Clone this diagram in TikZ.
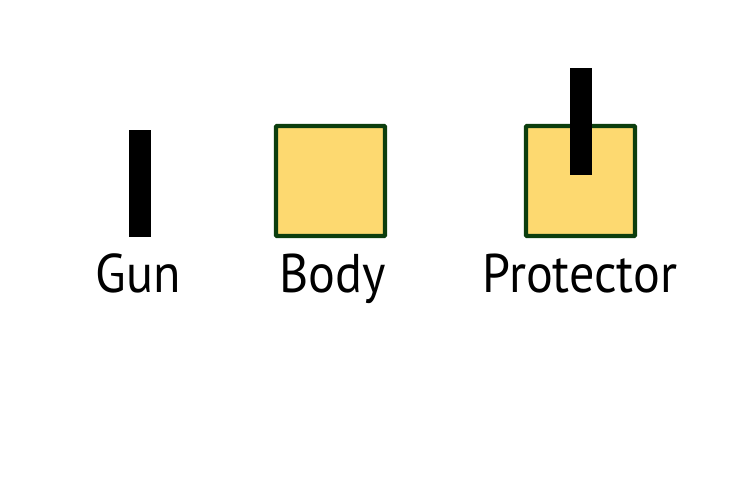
\documentclass[tikz,border=0pt]{standalone}
\usepackage{fontspec}
\setmainfont{PT Sans}[FakeStretch=0.92]
\definecolor{bodyfill}{RGB}{253,217,112}
\definecolor{bodyline}{RGB}{12,62,14}
\begin{document}
\begin{tikzpicture}[
  gunbar/.style={rectangle, fill=black, inner sep=0pt, minimum width=0.44cm, minimum height=2.14cm},
  bodybox/.style={rectangle, draw=bodyline, fill=bodyfill, line width=2.4pt, rounded corners=0.5pt, inner sep=0pt, minimum width=2.18cm, minimum height=2.2cm},
  lbl/.style={anchor=base, font=\fontsize{31}{34}\selectfont}
]
\useasboundingbox (0,0) rectangle (15,10);

\node[gunbar] (gun) at (2.80,6.33) {};
\node[bodybox] (body) at (6.61,6.38) {};
\node[bodybox] (prot) at (11.61,6.38) {};
\node[gunbar] (protgun) at (11.62,7.56) {};

\node[lbl] (gunlbl) at (2.77,4.14) {Gun};
\node[lbl] (bodylbl) at (6.65,4.14) {Body};
\node[lbl] (protlbl) at (11.60,4.14) {Protector};
\end{tikzpicture}
\end{document}
